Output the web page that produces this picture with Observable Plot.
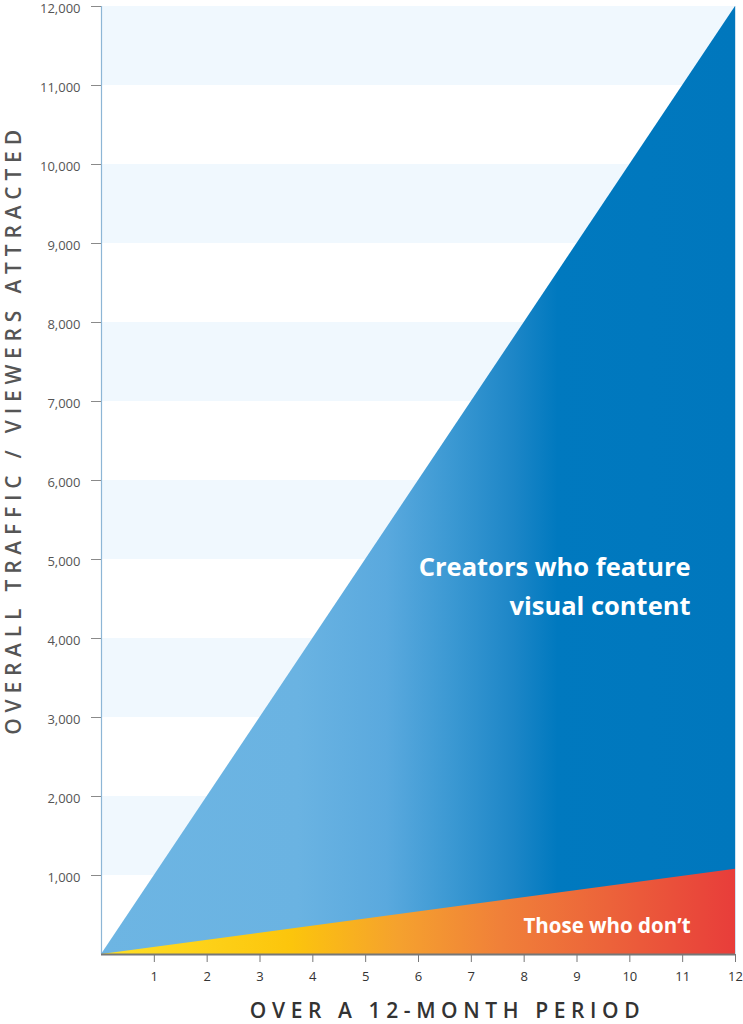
<!DOCTYPE html>
<html>
<head>
<meta charset="utf-8">
<script src="https://cdn.jsdelivr.net/npm/d3@7"></script>
<script src="https://cdn.jsdelivr.net/npm/@observablehq/plot@0.6"></script>
<style>
  html, body { margin: 0; padding: 0; background: #fff; }
  #chart { width: 743px; height: 1024px; position: relative; }
  svg { font-family: "Open Sans", sans-serif; }
</style>
</head>
<body>
<div id="chart"></div>
<script>
// ---- data ----
const months = [0, 12];
const visualTraffic = [0, 12000];     // creators who feature visual content
const nonVisualTraffic = [0, 1080];   // those who don't
const yTicks = [1000, 2000, 3000, 4000, 5000, 6000, 7000, 8000, 9000, 10000, 11000, 12000];
const xTicks = [1, 2, 3, 4, 5, 6, 7, 8, 9, 10, 11, 12];
const bandStarts = [1000, 3000, 5000, 7000, 9000, 11000];
const bandSize = 1000;
const labelVisual = ["Creators who feature", "visual content"];
const labelNonVisual = "Those who don\u2019t";
const xTitle = "OVER A 12-MONTH PERIOD";
const yTitle = "OVERALL TRAFFIC / VIEWERS ATTRACTED";

const visualData = months.map((m, i) => ({month: m, value: visualTraffic[i]}));
const nonVisualData = months.map((m, i) => ({month: m, value: nonVisualTraffic[i]}));
const bands = bandStarts.map(s => ({y1: s, y2: s + bandSize}));

const plot = Plot.plot({
  width: 743,
  height: 1024,
  marginLeft: 101,
  marginRight: 8,
  marginTop: 6,
  marginBottom: 70,
  style: {fontFamily: "Open Sans, sans-serif", background: "#fff", fontSize: "13px"},
  x: {domain: [0, 12]},
  y: {domain: [0, 12000]},
  marks: [
    Plot.rect(bands, {x1: 0, x2: 12, y1: "y1", y2: "y2", fill: "#f0f8fe"}),
    Plot.areaY(visualData, {x: "month", y: "value", fill: "url(#blueGrad)"}),
    Plot.areaY(nonVisualData, {x: "month", y: "value", fill: "url(#orangeGrad)"}),
    Plot.ruleX([0], {stroke: "#8db6d6", strokeWidth: 1.2}),
    Plot.ruleX([12], {stroke: "#cfe2f1", strokeWidth: 1}),
    Plot.ruleY([0], {stroke: "#777", strokeWidth: 2}),
    Plot.axisY({ticks: yTicks, tickSize: 10, tickPadding: 11, tickFormat: d3.format(","), label: null, fontSize: 13, fill: "#555", stroke: "#8a8a8a"}),
    Plot.axisX({ticks: xTicks, tickSize: 8, tickPadding: 9, label: null, fontSize: 13, fill: "#333", stroke: "#777"}),
    Plot.text([yTitle], {frameAnchor: "left", textAnchor: "middle", lineAnchor: "middle", dx: -87, dy: -51, rotate: -90, text: d => d, fontSize: 21, fontWeight: 600, fill: "#555"}),
    Plot.text([xTitle], {frameAnchor: "bottom", textAnchor: "middle", lineAnchor: "middle", dx: 29, dy: 57, text: d => d, fontSize: 21, fontWeight: 600, fill: "#333"}),
    Plot.text([labelVisual.join("\n")], {x: 11.15, y: 5130, text: d => d, textAnchor: "end", lineAnchor: "top", lineHeight: 1.5, fill: "#fff", fontSize: 25.5, fontWeight: 700}),
    Plot.text([labelNonVisual], {x: 11.15, y: 360, text: d => d, textAnchor: "end", fill: "#fff", fontSize: 20.5, fontWeight: 700})
  ]
});

const svg = d3.select(plot);
// letter spacing for titles
svg.selectAll("text").filter(function() { return this.textContent === yTitle; }).style("letter-spacing", "5.8px");
svg.selectAll("text").filter(function() { return this.textContent === xTitle; }).style("letter-spacing", "5.6px");
// nudge y tick labels slightly down as in the reference
svg.selectAll('g[aria-label="y-axis tick label"]').each(function() {
  const t = this.getAttribute("transform") || "";
  this.setAttribute("transform", (t + " translate(0,2)").trim());
});

// gradients
const defs = svg.insert("defs", ":first-child");
const bg = defs.append("linearGradient").attr("id", "blueGrad").attr("x1", "0").attr("x2", "1").attr("y1", "0").attr("y2", "0");
[[0, "#6db5e3"], [0.31, "#6ab3e2"], [0.45, "#5aa9de"], [0.55, "#3c99d3"], [0.65, "#1d86c7"], [0.72, "#0079bf"], [1, "#0077bd"]]
  .forEach(([o, c]) => bg.append("stop").attr("offset", o).attr("stop-color", c));
const og = defs.append("linearGradient").attr("id", "orangeGrad").attr("x1", "0").attr("x2", "1").attr("y1", "0").attr("y2", "0");
[[0, "#ffe027"], [0.3, "#fcc50c"], [0.47, "#f5a12e"], [0.63, "#f08039"], [0.8, "#ec633a"], [1, "#e83d3a"]]
  .forEach(([o, c]) => og.append("stop").attr("offset", o).attr("stop-color", c));

document.getElementById("chart").appendChild(plot);
</script>
</body>
</html>
